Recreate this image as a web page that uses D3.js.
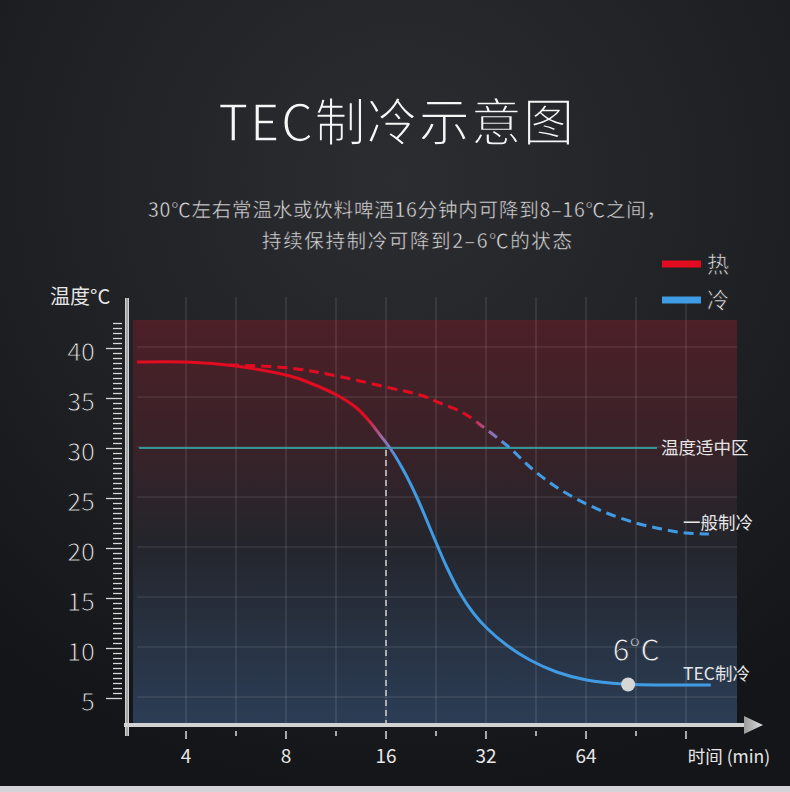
<!DOCTYPE html>
<html>
<head>
<meta charset="utf-8">
<script src="https://cdn.jsdelivr.net/npm/d3@7"></script>
<style>
  html, body { margin: 0; padding: 0; background: #1b1c1f; }
  svg { display: block; }
  text { font-family: "Noto Sans CJK SC", "Noto Sans", sans-serif; }
</style>
</head>
<body>
<svg id="chart"></svg>
<script>
// values
const tecTime = [2.85, 4, 5.65, 8.22, 9.45, 11.37, 13.06, 14.32, 15.35, 16.45, 18.04, 19.8, 22.47, 24.37, 26.72, 29.3, 32.15, 36.9, 43.4, 52.2, 64.3, 82.9, 152]
const tecTemp = [38.6, 38.6, 38.2, 37.2, 36.5, 35.3, 34.0, 32.6, 31.3, 30, 27.8, 25.1, 20.8, 18.1, 15.5, 13.5, 12.0, 10.3, 8.8, 7.6, 6.8, 6.4, 6.3]
const normalTime = [5.4, 8.22, 11.37, 16.45, 20.25, 23.26, 27.35, 31.4, 35.26, 37.8, 43.4, 51.0, 60.0, 73.9, 90.5, 108, 128, 150]
const normalTemp = [38.3, 38.0, 37.2, 36.0, 35.3, 34.5, 33.5, 32.1, 30.8, 30, 28.1, 26.3, 24.9, 23.5, 22.5, 21.9, 21.5, 21.4]
const yTicks = [5, 10, 15, 20, 25, 30, 35, 40]
const xTicks = [4, 8, 16, 32, 64, 128]
const xLabels = ["4", "8", "16", "32", "64", "时间 (min)"]
const comfortTemp = 30
const markTime = 85.7
const markTemp = 6.35
const markLabel = "6°C"
const legendNames = ["热", "冷"]

let w = 790
let h = 792

let svg = d3.select("#chart")
    .attr("width", w)
    .attr("height", h)

let defs = svg.append("defs")

let bg = defs.append("radialGradient")
    .attr("id", "bg")
    .attr("gradientUnits", "userSpaceOnUse")
    .attr("cx", 400).attr("cy", 180).attr("r", 620)
bg.append("stop").attr("offset", "0%").attr("stop-color", "#2c2d31")
bg.append("stop").attr("offset", "60%").attr("stop-color", "#1f2023")
bg.append("stop").attr("offset", "100%").attr("stop-color", "#141518")

let plotLeft = 133, plotRight = 737, plotTop = 320, plotBottom = 723

let shade = defs.append("linearGradient")
    .attr("id", "shade")
    .attr("gradientUnits", "userSpaceOnUse")
    .attr("x1", 0).attr("y1", plotTop).attr("x2", 0).attr("y2", plotBottom)
shade.append("stop").attr("offset", "0%").attr("stop-color", "#4d1f27")
shade.append("stop").attr("offset", "30%").attr("stop-color", "#3a2228")
shade.append("stop").attr("offset", "55%").attr("stop-color", "#24252c")
shade.append("stop").attr("offset", "100%").attr("stop-color", "#2b3d55")

function fade(id, from, to) {
    let g = defs.append("linearGradient")
        .attr("id", id)
        .attr("gradientUnits", "userSpaceOnUse")
        .attr("x1", from).attr("y1", 0).attr("x2", to).attr("y2", 0)
    g.append("stop").attr("offset", "0%").attr("stop-color", "#e30b1f")
    g.append("stop").attr("offset", "50%").attr("stop-color", "#9a6aa8")
    g.append("stop").attr("offset", "100%").attr("stop-color", "#3f9be4")
}
fade("tecStroke", 366, 398)
fade("normalStroke", 470, 508)

let arrowGrad = defs.append("linearGradient").attr("id", "arrowGrad")
    .attr("x1", 0).attr("y1", 0).attr("x2", 1).attr("y2", 0)
arrowGrad.append("stop").attr("offset", "0%").attr("stop-color", "#9a9a9a")
arrowGrad.append("stop").attr("offset", "100%").attr("stop-color", "#e0e0e0")

svg.append("rect").attr("width", w).attr("height", h).attr("fill", "url(#bg)")
svg.append("rect").attr("y", 786).attr("width", w).attr("height", 6).attr("fill", "#d4d4d6")

// scales
let x = d3.scaleLog().base(2).domain([4, 128]).range([186, 686])
let y = d3.scaleLinear().domain([5, 40]).range([698, 348])

svg.append("rect")
    .attr("x", plotLeft).attr("y", plotTop)
    .attr("width", plotRight - plotLeft).attr("height", plotBottom - plotTop)
    .attr("fill", "url(#shade)")

// grid
let gridX = []
for (const t of xTicks) {
    gridX.push(t)
    if (t < 128) gridX.push(t * Math.SQRT2)
}
svg.append("g")
    .selectAll("line")
    .data(gridX)
    .join("line")
    .attr("x1", d => x(d)).attr("x2", d => x(d))
    .attr("y1", 297).attr("y2", plotBottom)
    .attr("stroke", "#ffffff").attr("stroke-opacity", 0.14).attr("stroke-width", 1.2)

svg.append("g")
    .selectAll("line")
    .data(yTicks)
    .join("line")
    .attr("x1", plotLeft + 4).attr("x2", plotRight)
    .attr("y1", d => y(d) - 1).attr("y2", d => y(d) - 1)
    .attr("stroke", "#ffffff").attr("stroke-opacity", 0.14).attr("stroke-width", 1.2)

// y axis ruler
let minor = d3.range(10, 86).map(d => d / 2)
svg.append("g")
    .selectAll("line")
    .data(minor)
    .join("line")
    .attr("x1", d => d % 5 == 0 ? 106 : 113)
    .attr("x2", 122)
    .attr("y1", d => y(d) + 0.5).attr("y2", d => y(d) + 0.5)
    .attr("stroke", "#d8d8d8").attr("stroke-width", 1.3)

svg.append("line")
    .attr("x1", 127).attr("x2", 127).attr("y1", 298).attr("y2", 736)
    .attr("stroke", "#cfcfcf").attr("stroke-width", 4)
svg.append("line")
    .attr("x1", 127).attr("x2", 127).attr("y1", 298).attr("y2", 736)
    .attr("stroke", "#7a7a7a").attr("stroke-width", 1)

// thin the glyphs by stroking them with the paint behind them
svg.append("g")
    .selectAll("text")
    .data(yTicks)
    .join("text")
    .text(d => d)
    .attr("x", 95).attr("y", d => y(d) + 13)
    .attr("text-anchor", "end")
    .attr("font-size", 25)
    .attr("fill", "#f2f2f2")
    .attr("stroke", "url(#bg)").attr("stroke-width", 0.9)

svg.append("text")
    .text("温度°C")
    .attr("x", 50).attr("y", 304)
    .attr("font-size", 20).attr("fill", "#e6e6e6")

// x axis
svg.append("line")
    .attr("x1", 124).attr("x2", 748).attr("y1", 725).attr("y2", 725)
    .attr("stroke", "#d2d2d2").attr("stroke-width", 4)
svg.append("path")
    .attr("d", "M744,716 L763,725 L744,734 Z")
    .attr("fill", "url(#arrowGrad)")

svg.append("g")
    .selectAll("line")
    .data(gridX)
    .join("line")
    .attr("x1", d => x(d)).attr("x2", d => x(d))
    .attr("y1", 731).attr("y2", d => xTicks.includes(d) ? 739 : 736)
    .attr("stroke", "#d8d8d8").attr("stroke-width", 1.5)

svg.append("g")
    .selectAll("text")
    .data(xTicks)
    .join("text")
    .text((d, i) => xLabels[i])
    .attr("x", (d, i) => i == xTicks.length - 1 ? x(d) + 43 : x(d))
    .attr("y", 763)
    .attr("text-anchor", "middle")
    .attr("font-size", (d, i) => i == xTicks.length - 1 ? 17.5 : 19)
    .attr("fill", "#e6e6e6")

// comfort zone line
svg.append("line")
    .attr("x1", 139).attr("x2", 657)
    .attr("y1", y(comfortTemp)).attr("y2", y(comfortTemp))
    .attr("stroke", "#2fb7b9").attr("stroke-width", 1.6)
svg.append("text")
    .text("温度适中区")
    .attr("x", 661).attr("y", y(comfortTemp) + 6)
    .attr("font-size", 17.5).attr("fill", "#e6e6e6")

// 16 min marker
svg.append("line")
    .attr("x1", x(16)).attr("x2", x(16))
    .attr("y1", y(comfortTemp) + 2).attr("y2", plotBottom)
    .attr("stroke", "#cfcfcf").attr("stroke-width", 1.5)
    .attr("stroke-dasharray", "6,4")

let line = d3.line()
    .x(d => x(d[0]))
    .y(d => y(d[1]))
    .curve(d3.curveCatmullRom.alpha(0.5))

svg.append("path")
    .datum(d3.zip(normalTime, normalTemp))
    .attr("d", line)
    .attr("fill", "none")
    .attr("stroke", "url(#normalStroke)")
    .attr("stroke-width", 3)
    .attr("stroke-dasharray", "10,6")

svg.append("path")
    .datum(d3.zip(tecTime, tecTemp))
    .attr("d", line)
    .attr("fill", "none")
    .attr("stroke", "url(#tecStroke)")
    .attr("stroke-width", 3)

svg.append("text")
    .text("一般制冷")
    .attr("x", 683).attr("y", 529)
    .attr("font-size", 17.5).attr("fill", "#e6e6e6")

svg.append("text")
    .text("TEC制冷")
    .attr("x", 683).attr("y", 680)
    .attr("font-size", 17.5).attr("fill", "#e6e6e6")

svg.append("circle")
    .attr("cx", x(markTime)).attr("cy", y(markTemp))
    .attr("r", 7)
    .attr("fill", "#d6d6d6")

svg.append("text")
    .text(markLabel)
    .attr("x", x(markTime) + 8).attr("y", y(markTemp) - 24)
    .attr("text-anchor", "middle")
    .attr("font-size", 30)
    .attr("fill", "#f4f4f4")
    .attr("stroke", "url(#shade)").attr("stroke-width", 0.8)

// legend
let legend = svg.append("g")
    .selectAll("g")
    .data(legendNames)
    .join("g")
    .attr("transform", (d, i) => `translate(662, ${264 + i * 36})`)
legend.append("rect")
    .attr("y", -3.5).attr("width", 39).attr("height", 7)
    .attr("fill", (d, i) => i == 0 ? "#e30b1f" : "#3f9be4")
legend.append("text")
    .text(d => d)
    .attr("x", 45).attr("y", 8)
    .attr("font-size", 22)
    .attr("fill", "#ececec")
    .attr("stroke", "url(#bg)").attr("stroke-width", 0.6)

// titles
svg.append("text")
    .text("TEC制冷示意图")
    .attr("x", 218).attr("y", 141)
    .attr("textLength", 356)
    .attr("font-size", 51)
    .attr("fill", "#f6f6f6")
    .attr("stroke", "url(#bg)").attr("stroke-width", 1.6)

svg.append("text")
    .text("30℃左右常温水或饮料啤酒16分钟内可降到8–16℃之间，")
    .attr("x", 148).attr("y", 217)
    .attr("textLength", 518)
    .attr("font-size", 19.5)
    .attr("fill", "#dcdcdc")
    .attr("stroke", "url(#bg)").attr("stroke-width", 0.4)

svg.append("text")
    .text("持续保持制冷可降到2–6℃的状态")
    .attr("x", 262).attr("y", 248)
    .attr("textLength", 310)
    .attr("font-size", 19.5)
    .attr("fill", "#dcdcdc")
    .attr("stroke", "url(#bg)").attr("stroke-width", 0.4)
</script>
</body>
</html>
